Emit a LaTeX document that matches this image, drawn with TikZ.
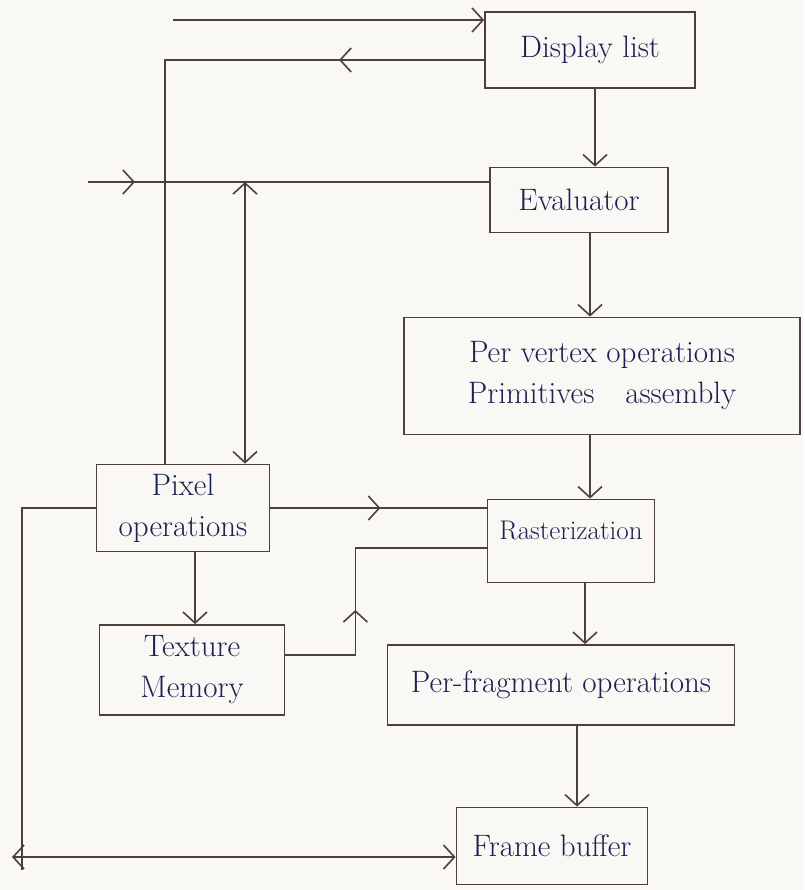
\documentclass[tikz,border=0pt]{standalone}
\usepackage{fontspec}
\usetikzlibrary{arrows.meta,decorations.markings,calc}
\definecolor{ink}{HTML}{1B2150}
\definecolor{pencil}{HTML}{4E3F3A}
\definecolor{paper}{HTML}{FAF8F5}
\tikzset{
  box/.style={draw=pencil, line width=1.8pt, rectangle, inner sep=0pt,
    text=ink, font=\fontsize{31}{41}\selectfont, align=center},
  wire/.style={draw=pencil, line width=1.6pt},
  tip/.style={-{Straight Barb[length=11pt,width=24pt]}},
  bothtips/.style={{Straight Barb[length=11pt,width=24pt]}-{Straight Barb[length=11pt,width=24pt]}},
  midtip/.style={postaction={decorate}, decoration={markings,
    mark=at position #1 with {\arrow{Straight Barb[length=11pt,width=24pt]}}}}
}
\begin{document}
\begin{tikzpicture}[x=1pt, y=-1pt]
  \fill[paper] (0,0) rectangle (804,890);
  \useasboundingbox (0,0) rectangle (804,890);

  % pipeline stages
  \node[box, minimum width=210pt, minimum height=76pt] (DL) at (590,50) {Display list};
  \node[box, minimum width=178pt, minimum height=65pt] (EV) at (579,200) {Evaluator};
  \node[box, minimum width=396pt, minimum height=117pt] (PV) at (602,376)
    {Per vertex operations\\ Primitives\quad assembly};
  \node[box, minimum width=173pt, minimum height=87pt] (PX) at (183,508) {Pixel\\ operations};
  \node[box, minimum width=167pt, minimum height=83pt, font=\fontsize{27}{36}\selectfont,
    text depth=22pt] (RS) at (571,541) {Rasterization};
  \node[box, minimum width=185pt, minimum height=90pt] (TM) at (192,670) {Texture\\ Memory};
  \node[box, minimum width=347pt, minimum height=80pt] (PF) at (561,685) {Per-fragment operations};
  \node[box, minimum width=191pt, minimum height=77pt] (FB) at (552,846) {Frame buffer};

  % free ends of the outer connectors
  \coordinate (inTop) at (173,20);
  \coordinate (inEv) at (88,182);
  \coordinate (tap) at (245,182);
  \coordinate (leftDown) at (22,870);
  \coordinate (leftEnd) at (12,857);

  % inputs at the top
  \draw[wire, tip] (inTop) -- (inTop -| DL.west);
  \draw[wire, midtip=145pt] ([yshift=-10pt]DL.west) -| ([xshift=-18pt]PX.north);
  \draw[wire, midtip=47pt] (inEv) -- (inEv -| EV.west);
  \draw[wire, bothtips] (tap) -- (tap |- PX.north);

  % geometry path
  \draw[wire, tip] ([xshift=5pt]DL.south) -- ([xshift=5pt]DL.south |- EV.north);
  \draw[wire, tip] ([xshift=11pt]EV.south) -- ([xshift=11pt]EV.south |- PV.north);
  \draw[wire, tip] ([xshift=19pt]RS.north |- PV.south) -- ([xshift=19pt]RS.north);
  \draw[wire, tip] ([xshift=14pt]RS.south) -- ([xshift=14pt]RS.south |- PF.north);
  \draw[wire, tip] ([xshift=16pt]PF.south) -- ([xshift=16pt]PF.south |- FB.north);

  % pixel path
  \draw[wire, midtip=110pt] (PX.east) -- (PX.east -| RS.west);
  \draw[wire, tip] ([xshift=12pt]PX.south) -- ([xshift=12pt]PX.south |- TM.north);
  \draw[wire, midtip=115pt] ([yshift=15pt]TM.east) -- ++(70,0) |- ([yshift=-7pt]RS.west);

  % frame buffer read-back
  \draw[wire] (PX.west) -| (leftDown);
  \draw[wire, bothtips] (leftEnd) -- (leftEnd -| FB.west);
\end{tikzpicture}
\end{document}
